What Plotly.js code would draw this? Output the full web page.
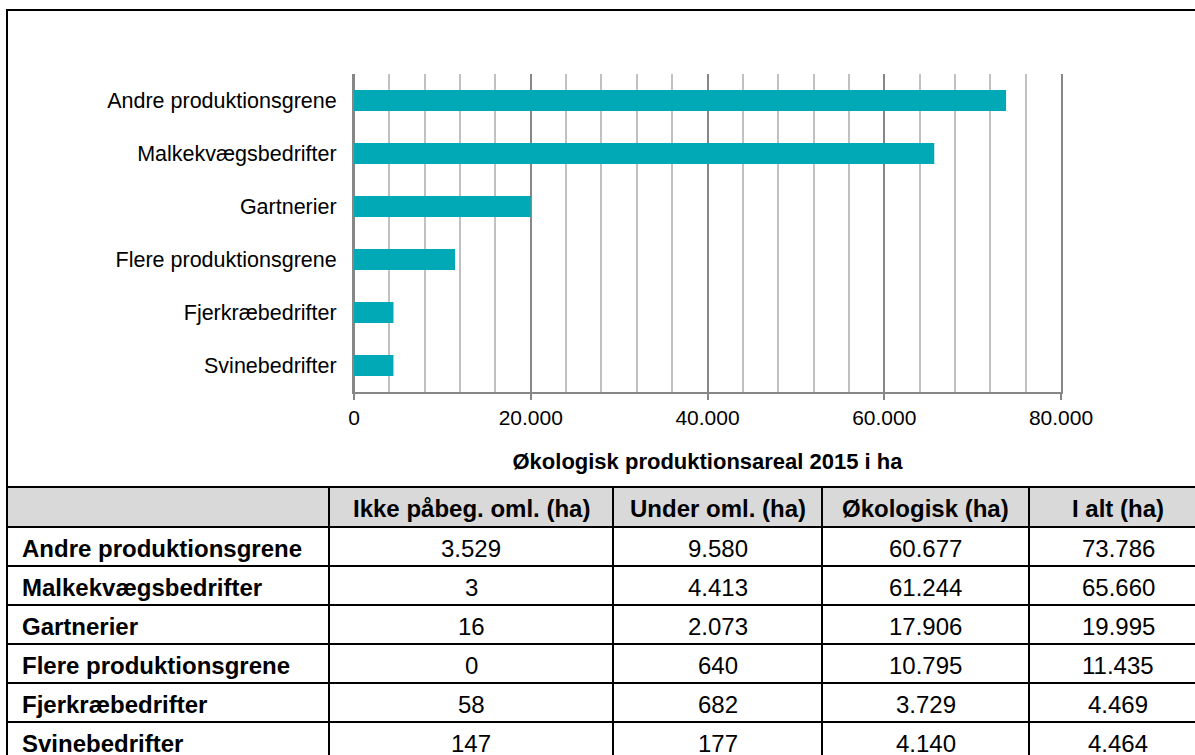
<!DOCTYPE html>
<html>
<head>
<meta charset="utf-8">
<script src="https://cdn.plot.ly/plotly-3.0.1.min.js"></script>
<style>
html, body { margin: 0; padding: 0; overflow: hidden; background: #fff; }
#chart { width: 1210px; height: 780px; }
</style>
</head>
<body>
<div id="chart"></div>
<script>
// ---- Data ----
const categories = ["Andre produktionsgrene", "Malkekvægsbedrifter", "Gartnerier", "Flere produktionsgrene", "Fjerkræbedrifter", "Svinebedrifter"];
const ikkePaabeg = [3529, 3, 16, 0, 58, 147];
const underOml = [9580, 4413, 2073, 640, 682, 177];
const oekologisk = [60677, 61244, 17906, 10795, 3729, 4140];
const iAlt = [73786, 65660, 19995, 11435, 4469, 4464];
const tableHeader = ["", "Ikke påbeg. oml. (ha)", "Under oml. (ha)", "Økologisk (ha)", "I alt (ha)"];
const xTitle = "Økologisk produktionsareal 2015 i ha";

// ---- Geometry (pixels) ----
const W = 1210, H = 780;
const FONT = "Arial, 'Liberation Sans', sans-serif";
const px = v => v / W;
const py = v => 1 - v / H;
const fmt = n => String(n).replace(/\B(?=(\d{3})+(?!\d))/g, ".");

const colEdges = [7, 329, 613, 822, 1029, 1207];
const tableTop = 487, headerH = 40, rowH = 39;

const barTrace = {
  type: "bar",
  orientation: "h",
  y: categories,
  x: iAlt,
  marker: { color: "#00a9b5" },
  hoverinfo: "x+y"
};

// ---- Table built from the data arrays ----
const shapes = [];
const annotations = [];
const nRows = categories.length;
const tableBottom = tableTop + headerH + nRows * rowH;

shapes.push({
  type: "rect", xref: "paper", yref: "paper",
  x0: px(colEdges[0]), x1: px(colEdges[colEdges.length - 1]),
  y0: py(tableTop + headerH), y1: py(tableTop),
  fillcolor: "#d9d9d9", line: { width: 0 }, layer: "below"
});
const hLines = [tableTop, tableTop + headerH];
for (let i = 1; i <= nRows; i++) hLines.push(tableTop + headerH + i * rowH);
hLines.forEach(y => shapes.push({
  type: "line", xref: "paper", yref: "paper",
  x0: px(colEdges[0]), x1: px(colEdges[colEdges.length - 1]), y0: py(y), y1: py(y),
  line: { color: "#000000", width: 2 }
}));
colEdges.forEach(x => shapes.push({
  type: "line", xref: "paper", yref: "paper",
  x0: px(x), x1: px(x), y0: py(tableBottom), y1: py(tableTop),
  line: { color: "#000000", width: 2 }
}));
tableHeader.forEach((t, j) => {
  if (!t) return;
  annotations.push({
    xref: "paper", yref: "paper",
    x: px((colEdges[j] + colEdges[j + 1]) / 2), y: py(tableTop + headerH / 2 + 1.5),
    xanchor: "center", yanchor: "middle", showarrow: false,
    text: "<b>" + t + "</b>",
    font: { family: FONT, size: 24, color: "#000000" }
  });
});
const columns = [ikkePaabeg, underOml, oekologisk, iAlt];
categories.forEach((c, i) => {
  const yc = tableTop + headerH + i * rowH + rowH / 2 + 2;
  annotations.push({
    xref: "paper", yref: "paper",
    x: px(colEdges[0] + 13), y: py(yc),
    xanchor: "left", yanchor: "middle", showarrow: false,
    text: "<b>" + c + "</b>",
    font: { family: FONT, size: 24, color: "#000000" }
  });
  columns.forEach((col, j) => {
    annotations.push({
      xref: "paper", yref: "paper",
      x: px((colEdges[j + 1] + colEdges[j + 2]) / 2), y: py(yc),
      xanchor: "center", yanchor: "middle", showarrow: false,
      text: fmt(col[i]),
      font: { family: FONT, size: 24, color: "#000000" }
    });
  });
});

shapes.push({
  type: "rect", xref: "paper", yref: "paper",
  x0: px(7), x1: px(1207), y0: py(487), y1: py(10),
  line: { color: "#000000", width: 2 }, fillcolor: "rgba(0,0,0,0)",
  layer: "above"
});

const layout = {
  width: W,
  height: H,
  margin: { l: 0, r: 0, t: 0, b: 0, pad: 0 },
  paper_bgcolor: "#ffffff",
  plot_bgcolor: "#ffffff",
  separators: ",.",
  showlegend: false,
  bargap: 0.6,
  font: { family: FONT, size: 21, color: "#000000" },
  xaxis: {
    domain: [px(354), px(1061)],
    range: [0, 80000],
    dtick: 20000,
    tick0: 0,
    tickformat: ",",
    showgrid: true,
    gridcolor: "#878787",
    gridwidth: 2,
    minor: { dtick: 4000, showgrid: true, gridcolor: "#c0c0c0", gridwidth: 2 },
    zeroline: true,
    zerolinecolor: "#878787",
    zerolinewidth: 2,
    showline: true,
    linecolor: "#878787",
    linewidth: 2,
    ticks: "outside",
    ticklen: 6,
    tickwidth: 2,
    tickcolor: "#878787",
    tickfont: { family: FONT, size: 21, color: "#000000" },
    title: {
      text: "<b>" + xTitle + "</b>",
      font: { family: FONT, size: 22, color: "#000000" },
      standoff: 25
    },
    automargin: false,
    fixedrange: true
  },
  yaxis: {
    domain: [py(392), py(74)],
    type: "category",
    autorange: "reversed",
    showgrid: false,
    zeroline: false,
    showline: true,
    mirror: true,
    linecolor: "#878787",
    linewidth: 2,
    ticks: "",
    ticklabelstandoff: 11,
    tickfont: { family: FONT, size: 21.5, color: "#000000" },
    automargin: false,
    fixedrange: true
  },
  shapes: shapes,
  annotations: annotations
};

Plotly.newPlot("chart", [barTrace], layout, { displayModeBar: false, staticPlot: true });
</script>
</body>
</html>
